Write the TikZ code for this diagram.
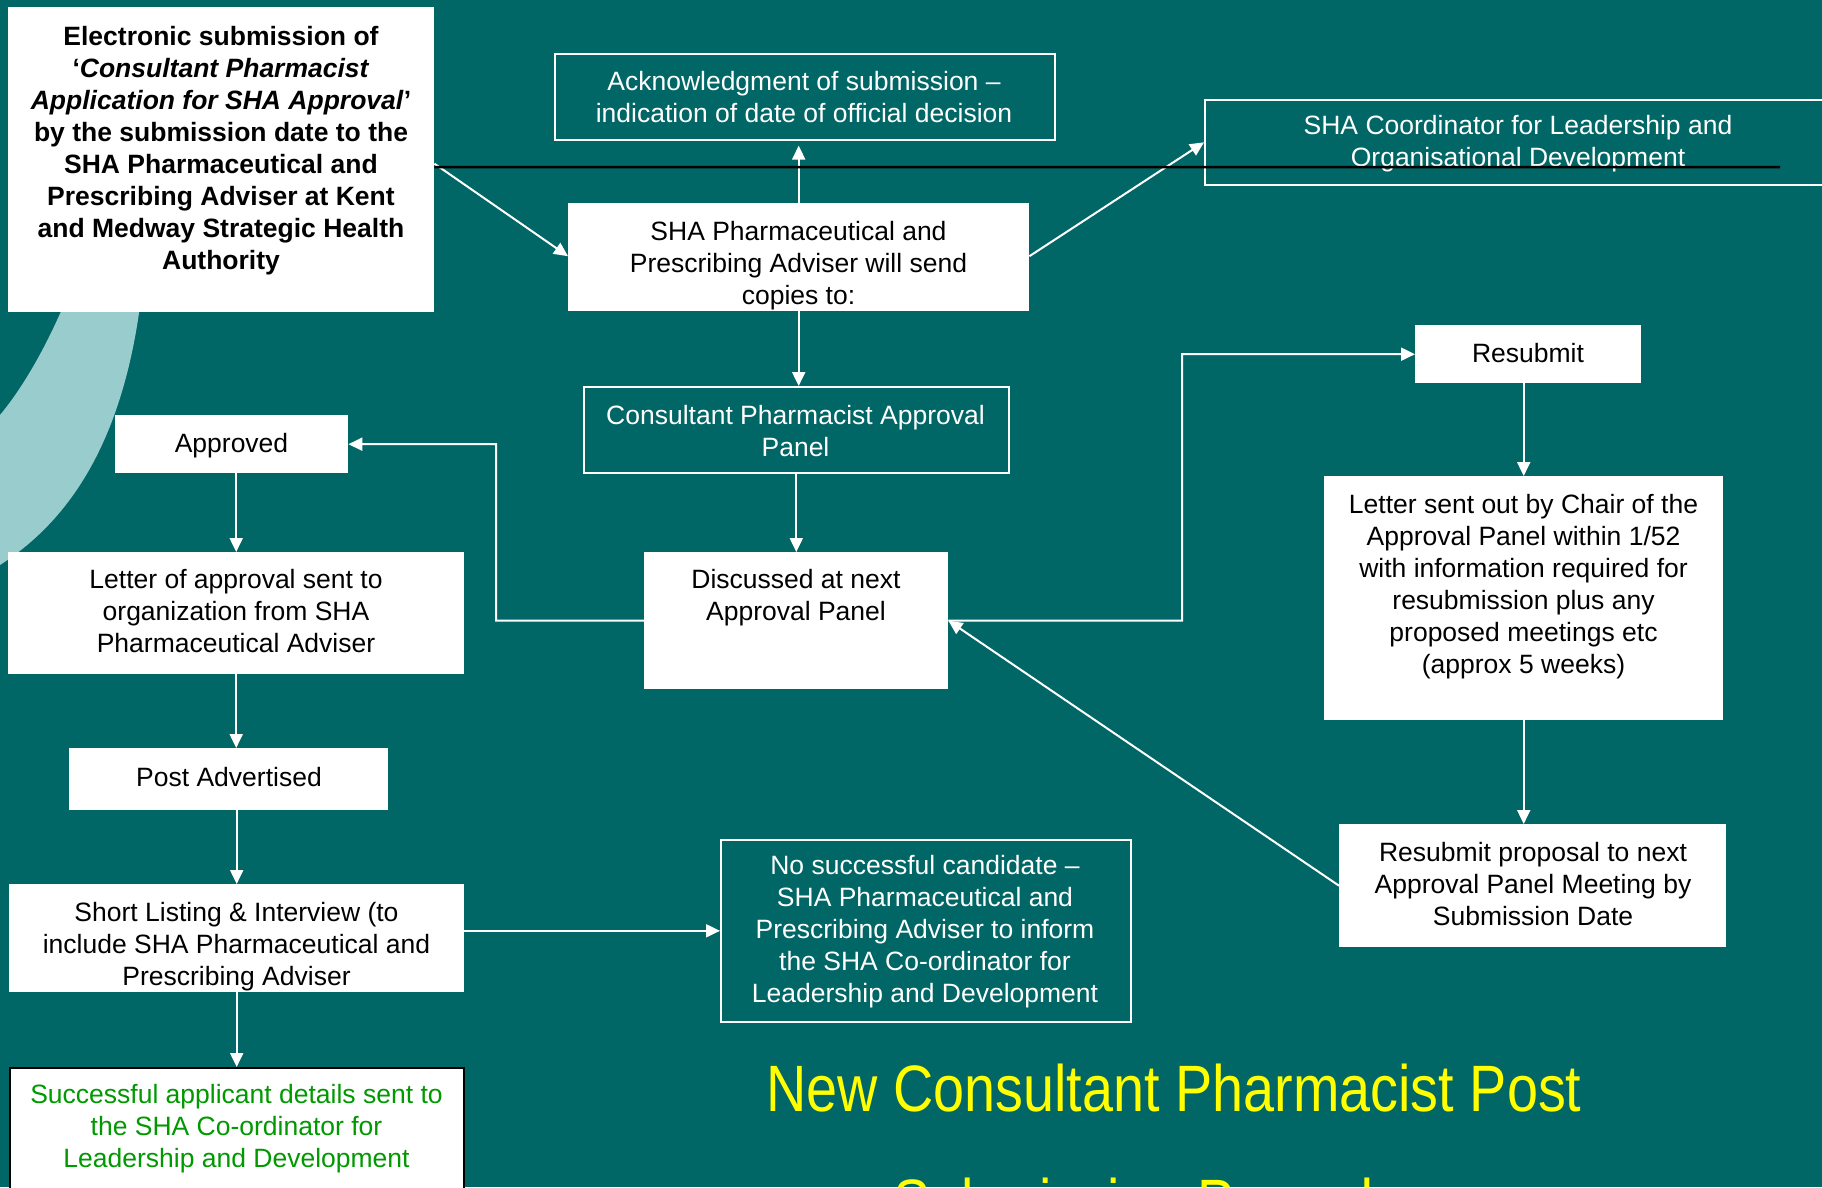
\documentclass[tikz,border=0pt]{standalone}
\usepackage{fontspec}
\setmainfont{Liberation Sans}
\newfontfamily\titlefont[FakeStretch=0.85]{Liberation Sans}
\usetikzlibrary{arrows.meta,calc}

\definecolor{bgteal}{RGB}{0,102,102}
\definecolor{arclight}{RGB}{153,204,204}
\definecolor{okgreen}{RGB}{0,153,0}
\definecolor{titleyellow}{RGB}{255,255,0}

\newcommand\bodyfont{\fontsize{26.5}{32}\selectfont}
\newcommand\ml[1]{\begin{tabular}[t]{@{}c@{}}#1\end{tabular}}

\tikzset{
  wbox/.style={fill=white, draw=none, inner sep=0pt, anchor=north west},
  obox/.style={draw=white, line width=1.6pt, inner sep=0pt, anchor=north west},
  txt/.style={inner sep=0pt, anchor=base, font=\bodyfont},
  conn/.style={draw=white, line width=2pt, -{Triangle[length=14pt,width=13pt]}},
}

\begin{document}
\begin{tikzpicture}[x=1pt,y=-1pt]
\useasboundingbox (0,0) rectangle (1822,1187);
\clip (0,0) rectangle (1822,1187);
\fill[bgteal] (0,0) rectangle (1822,1187);

% decorative light band on the left
\fill[arclight] (70,290) .. controls (50,340) and (25,385) .. (0,415)
  -- (0,565) .. controls (70,520) and (125,440) .. (142,290) -- cycle;

% boxes
\node[wbox, minimum width=426pt, minimum height=305pt] (sub) at (8,7) {};
\node[obox, minimum width=500pt, minimum height=86pt] (ack) at (554,53) {};
\node[wbox, minimum width=461pt, minimum height=108pt] (sha) at (568,203) {};
\node[obox, minimum width=628pt, minimum height=85pt] (coord) at (1204,99) {};
\node[obox, minimum width=425pt, minimum height=86pt] (panel) at (583,386) {};
\node[wbox, minimum width=304pt, minimum height=137pt] (disc) at (644,552) {};
\node[wbox, minimum width=233pt, minimum height=58pt] (approved) at (115,415) {};
\node[wbox, minimum width=456pt, minimum height=122pt] (letter) at (8,552) {};
\node[wbox, minimum width=319pt, minimum height=62pt] (post) at (69,748) {};
\node[wbox, minimum width=455pt, minimum height=108pt] (short) at (9,884) {};
\node[obox, minimum width=410pt, minimum height=182pt] (nosucc) at (720,839) {};
\node[wbox, draw=black, line width=1.5pt, minimum width=454pt, minimum height=140pt] (succ) at (9,1067) {};
\node[wbox, minimum width=226pt, minimum height=58pt] (resub) at (1415,325) {};
\node[wbox, minimum width=399pt, minimum height=244pt] (lettersent) at (1324,476) {};
\node[wbox, minimum width=387pt, minimum height=123pt] (resubprop) at (1339,824) {};

% texts
\node[txt, font=\bodyfont\bfseries] (sub-t) at (221,45) {\ml{Electronic submission of\\
  ‘\textit{Consultant Pharmacist}\\
  \textit{Application for SHA Approval}’\\
  by the submission date to the\\
  SHA Pharmaceutical and\\
  Prescribing Adviser at Kent\\
  and Medway Strategic Health\\
  Authority}};
\node[txt, text=white] (ack-t) at (804,90) {\ml{Acknowledgment of submission –\\indication of date of official decision}};
\node[txt] (sha-t) at (798.5,240) {\ml{SHA Pharmaceutical and\\Prescribing Adviser will send\\copies to:}};
\node[txt, text=white] (coord-t) at (1518,134) {\ml{SHA Coordinator for Leadership and\\Organisational Development}};
\node[txt, text=white] (panel-t) at (795.5,424) {\ml{Consultant Pharmacist Approval\\Panel}};
\node[txt] (disc-t) at (796,588) {\ml{Discussed at next\\Approval Panel}};
\node[txt] (approved-t) at (231.5,452) {Approved};
\node[txt] (letter-t) at (236,588) {\ml{Letter of approval sent to\\organization from SHA\\Pharmaceutical Adviser}};
\node[txt] (post-t) at (229,786) {Post Advertised};
\node[txt] (short-t) at (236.5,921) {\ml{Short Listing \& Interview (to\\include SHA Pharmaceutical and\\Prescribing Adviser}};
\node[txt, text=white] (nosucc-t) at (925,874) {\ml{No successful candidate –\\SHA Pharmaceutical and\\Prescribing Adviser to inform\\the SHA Co-ordinator for\\Leadership and Development}};
\node[txt, text=okgreen] (succ-t) at (236.5,1103) {\ml{Successful applicant details sent to\\the SHA Co-ordinator for\\Leadership and Development}};
\node[txt] (resub-t) at (1528,362) {Resubmit};
\node[txt] (lettersent-t) at (1523.5,513) {\ml{Letter sent out by Chair of the\\Approval Panel within 1/52\\with information required for\\resubmission plus any\\proposed meetings etc\\(approx 5 weeks)}};
\node[txt] (resubprop-t) at (1533,861) {\ml{Resubmit proposal to next\\Approval Panel Meeting by\\Submission Date}};

% title
\node[inner sep=0pt, anchor=base, text=titleyellow, font=\titlefont\fontsize{65.6}{114}\selectfont] (title) at (1174,1111)
  {\ml{New Consultant Pharmacist Post\\Submission Procedure}};

% connectors
\coordinate (jl) at (496,444);
\coordinate (jr) at (1182,354);
\draw[conn] ([yshift=-4pt]sub.east) -- ([yshift=1pt]sha.west);
\draw[conn, shorten >=5pt] (sha.north) -- (sha.north |- ack.south);
\draw[conn] ([yshift=1pt]sha.east) -- (coord.west);
\draw[conn] (sha.south) -- (sha.south |- panel.north);
\draw[conn] (panel.south) -- (panel.south |- disc.north);
\draw[conn] (disc.west) -| (jl) -- (approved.east);
\draw[conn] (disc.east) -| (jr) -- (resub.west);
\draw[conn] (letter.north |- approved.south) -- (letter.north);
\draw[conn] (letter.south) -- (letter.south |- post.north);
\draw[conn] (short.north |- post.south) -- (short.north);
\draw[conn] (short.east |- nosucc.west) -- (nosucc.west);
\draw[conn] (short.south) -- (short.south |- succ.north);
\draw[conn] (lettersent.north |- resub.south) -- (lettersent.north);
\draw[conn] (lettersent.south) -- (lettersent.south |- resubprop.north);
\draw[conn] (resubprop.west) -- (disc.east);

% black rule across the top
\coordinate (ruleend) at (1780,167);
\draw[black, line width=2.5pt] ([yshift=-7.5pt]sub.east) -- (ruleend);
\end{tikzpicture}
\end{document}
